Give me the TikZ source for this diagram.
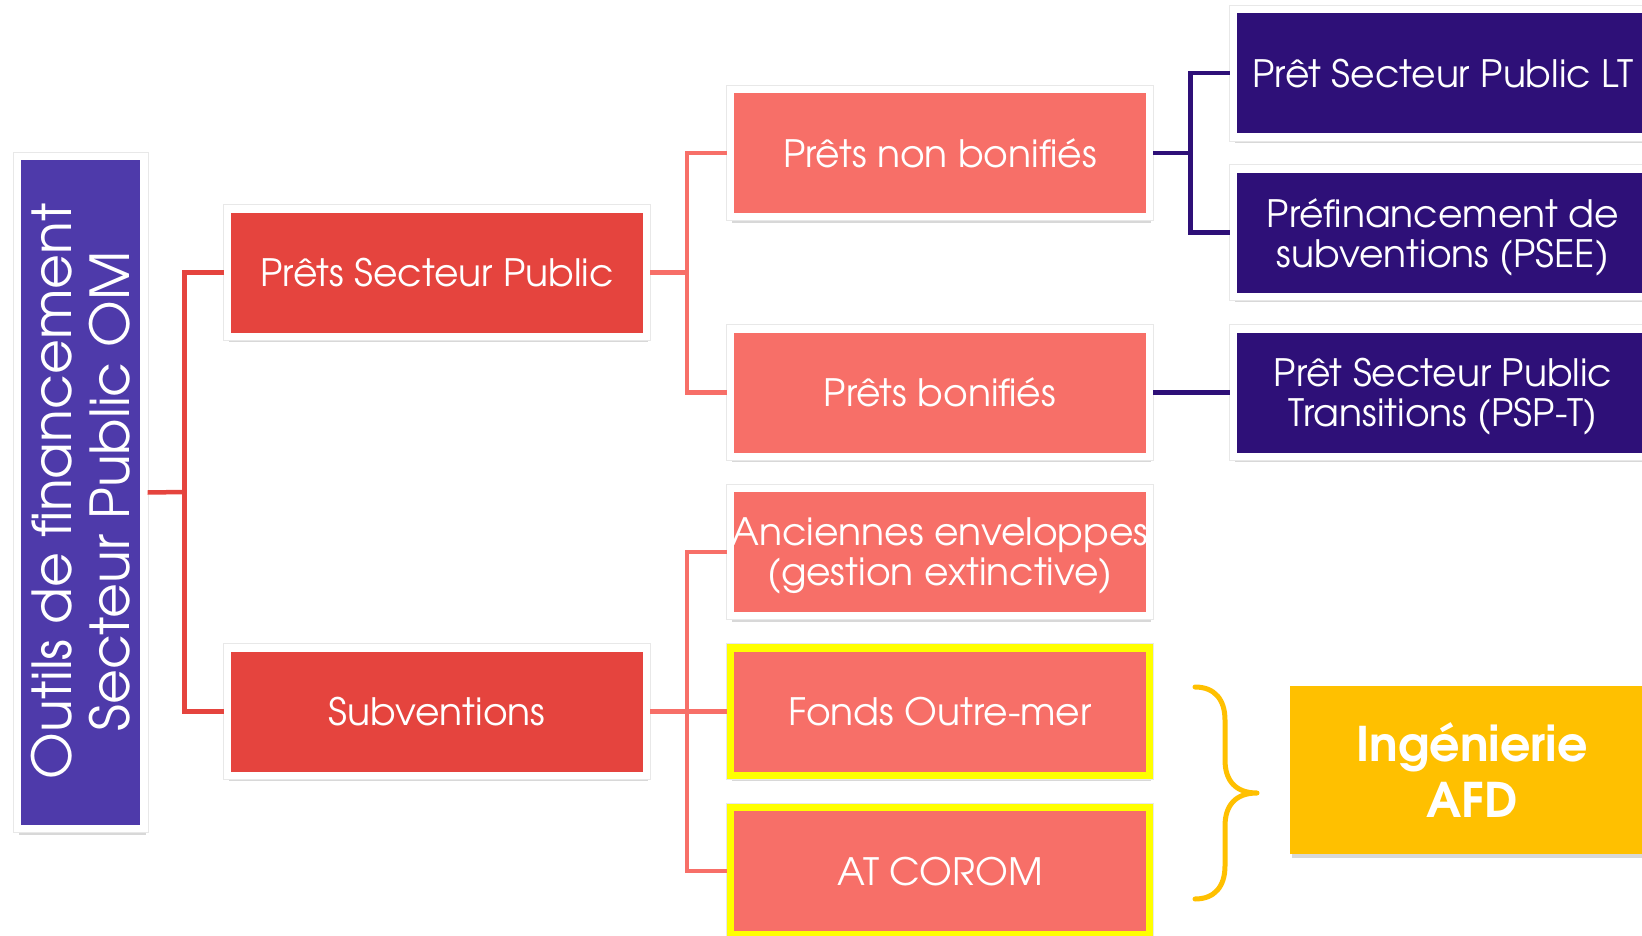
\documentclass[tikz,border=0pt]{standalone}
\usepackage{fontspec}
\setmainfont{TeX Gyre Adventor}
\usetikzlibrary{shadows}
\definecolor{rootc}{RGB}{78,58,170}
\definecolor{redc}{RGB}{229,68,62}
\definecolor{salc}{RGB}{247,111,104}
\definecolor{purc}{RGB}{46,16,120}
\definecolor{goldc}{RGB}{255,192,0}
\definecolor{yelc}{RGB}{255,255,0}
\begin{document}
\begin{tikzpicture}[x=1pt,y=-1pt,
  box/.style={rectangle, draw=white, line width=7.3pt, inner sep=0pt, text=white, align=center,
    minimum width=419pt, minimum height=127.3pt, text depth=0pt,
    drop shadow={shadow xshift=1.5pt, shadow yshift=-6pt, opacity=0.22, fill=black!70},
    preaction={draw=black!9, line width=9.3pt},
    font=\fontsize{37.7}{40}\selectfont},
  lvlone/.style={box, fill=redc},
  lvltwo/.style={box, fill=salc},
  lvltwoy/.style={box, fill=salc, draw=yelc},
  lvlthree/.style={box, fill=purc},
  rootbox/.style={box, fill=rootc, minimum width=126.6pt, minimum height=672.3pt},
  roottext/.style={rotate=90, text=white, align=center, inner sep=0pt,
    font=\fontsize{53.7}{58}\selectfont},
  goldbox/.style={rectangle, fill=goldc, draw=none, inner sep=0pt, text=white, align=center,
    minimum width=364pt, minimum height=167.5pt,
    drop shadow={shadow xshift=2pt, shadow yshift=-4pt, opacity=0.22, fill=black!70},
    font=\fontsize{47.7}{56}\selectfont\bfseries},
  redline/.style={draw=redc, line width=4.5pt},
  salline/.style={draw=salc, line width=4.5pt},
  purline/.style={draw=purc, line width=4.5pt},
  bracel/.style={draw=goldc, line width=5pt, line cap=round, line join=round}
]
\useasboundingbox (0,0) rectangle (1642,936);

% trunk points of the connectors
\coordinate (t1) at (184.3,492);
\coordinate (t2) at (687,272.75);
\coordinate (t3) at (687,711.5);
\coordinate (t4) at (1190.7,153);

\node[rootbox] (root) at (80.7,492.5) {};
\node[roottext] (roottxt) at (81,491.5) {Outils de financement\\Secteur Public OM};
\node[lvlone] (psp) at (437.2,272.75) {Prêts Secteur Public};
\node[lvlone] (sub) at (437.2,711.5) {Subventions};
\node[lvltwo] (pnb) at (939.9,153) {Prêts non bonifiés};
\node[lvltwo] (pb) at (939.9,392.5) {Prêts bonifiés};
\node[lvltwo] (anc) at (939.9,552) {Anciennes enveloppes\\(gestion extinctive)};
\node[lvltwoy] (fom) at (939.9,711.5) {Fonds Outre-mer};
\node[lvltwoy] (atc) at (939.9,871) {AT COROM};
\node[lvlthree] (lt) at (1443,73.25) {Prêt Secteur Public LT};
\node[lvlthree] (psee) at (1443,232.75) {Préfinancement de\\subventions (PSEE)};
\node[lvlthree] (pspt) at (1443,392.5) {Prêt Secteur Public\\Transitions (PSP-T)};
\node[goldbox] (ing) at (1472,770) {Ingénierie\\AFD};

\draw[redline] (root.east) -- (t1);
\draw[redline] (psp.west) -| (t1) |- (sub.west);
\draw[salline] (psp.east) -- (t2);
\draw[salline] (pnb.west) -| (t2) |- (pb.west);
\draw[salline] (sub.east) -- (t3);
\draw[salline] (anc.west) -| (t3) |- (atc.west);
\draw[salline] (t3) -- (fom.west);
\draw[purline] (pnb.east) -- (t4);
\draw[purline] (lt.west) -| (t4) |- (psee.west);
\draw[purline] (pb.east) -- (pspt.west);

% brace
\coordinate (btop) at (1195,687);
\coordinate (btip) at (1257,793);
\coordinate (bbot) at (1195,899);
\draw[bracel] (btop) .. controls (1215,687) and (1225,700) .. (1225,720) -- (1225,760)
  .. controls (1225,780) and (1235,793) .. (btip)
  .. controls (1235,793) and (1225,806) .. (1225,826) -- (1225,866)
  .. controls (1225,886) and (1215,899) .. (bbot);
\end{tikzpicture}
\end{document}
